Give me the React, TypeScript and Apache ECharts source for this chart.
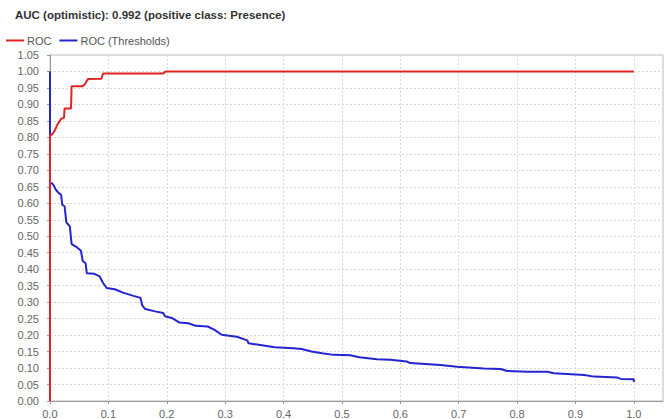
import React, { useEffect, useRef } from "react";
import * as echarts from "echarts";

// ROC curve: [false positive rate, true positive rate]
const rocPoints: [number, number][] = [
  [0, 0], [0, 0.805], [0.004, 0.81], [0.008, 0.82], [0.013, 0.84], [0.019, 0.856],
  [0.024, 0.86], [0.025, 0.888], [0.036, 0.888], [0.037, 0.955], [0.056, 0.955],
  [0.06, 0.962], [0.065, 0.977], [0.088, 0.978], [0.091, 0.994], [0.194, 0.994],
  [0.198, 1.0], [1.0, 1.0],
];

// Threshold curve: [false positive rate, threshold]
const thresholdPoints: [number, number][] = [
  [0, 1.0], [0, 0.662], [0.004, 0.66], [0.007, 0.652], [0.01, 0.641], [0.015, 0.631],
  [0.019, 0.626], [0.021, 0.595], [0.025, 0.591], [0.028, 0.542], [0.034, 0.53],
  [0.037, 0.476], [0.045, 0.468], [0.053, 0.456], [0.056, 0.425], [0.061, 0.418],
  [0.063, 0.388], [0.076, 0.386], [0.085, 0.378], [0.091, 0.358], [0.097, 0.343],
  [0.111, 0.339], [0.125, 0.329], [0.143, 0.319], [0.155, 0.313], [0.158, 0.29],
  [0.163, 0.279], [0.18, 0.272], [0.194, 0.267], [0.197, 0.257], [0.21, 0.251],
  [0.222, 0.238], [0.237, 0.236], [0.25, 0.228], [0.27, 0.226], [0.282, 0.216],
  [0.294, 0.201], [0.32, 0.195], [0.333, 0.187], [0.338, 0.184], [0.34, 0.175],
  [0.36, 0.17], [0.385, 0.163], [0.417, 0.16], [0.431, 0.158], [0.448, 0.15],
  [0.466, 0.145], [0.486, 0.14], [0.514, 0.139], [0.53, 0.133], [0.56, 0.127],
  [0.583, 0.125], [0.611, 0.12], [0.617, 0.115], [0.669, 0.109], [0.697, 0.104],
  [0.743, 0.099], [0.772, 0.097], [0.783, 0.091], [0.818, 0.089], [0.852, 0.089],
  [0.863, 0.084], [0.915, 0.079], [0.932, 0.074], [0.972, 0.071], [0.978, 0.067],
  [1.0, 0.066], [1.0, 0.058],
];

const seriesNames = ["ROC", "ROC (Thresholds)"];
const titleText = "AUC (optimistic): 0.992 (positive class: Presence)";

const FONT = "Arial, 'Liberation Sans', sans-serif";

export default function App() {
  const ref = useRef<HTMLDivElement>(null);

  useEffect(() => {
    if (!ref.current) return;
    const chart = echarts.init(ref.current, undefined, { renderer: "svg" });
    const gridLine = { show: true, lineStyle: { color: "#d9d9d9", type: [2, 2] as any, width: 1 } };
    chart.setOption({
      animation: false,
      backgroundColor: "#ffffff",
      title: {
        text: titleText,
        left: 15,
        top: 9,
        padding: 0,
        textStyle: { fontFamily: FONT, fontSize: 11.5, fontWeight: "bold", color: "#333" },
      },
      legend: {
        left: 6,
        top: 35,
        padding: 0,
        icon: "rect",
        itemWidth: 18,
        itemHeight: 2,
        itemGap: 8,
        textStyle: { fontFamily: FONT, fontSize: 11, color: "#555", padding: [0, 0, 0, -2] },
        data: [
          { name: seriesNames[0] },
          { name: seriesNames[1] },
        ],
      },
      grid: {
        left: 50,
        right: 7,
        top: 55,
        bottom: 18,
        show: true,
        borderColor: "#bdbdbd",
        borderWidth: 1,
        containLabel: false,
      },
      xAxis: {
        type: "value",
        min: 0,
        max: 1.05,
        interval: 0.1,
        offset: 3,
        axisLine: { show: true, lineStyle: { color: "#999" } },
        axisTick: { show: true, length: 3, lineStyle: { color: "#999" } },
        axisLabel: {
          margin: 4,
          fontFamily: FONT,
          fontSize: 11,
          color: "#666",
          showMaxLabel: false,
          formatter: (v: number) => (v > 1.0001 ? "" : v.toFixed(1)),
        },
        splitLine: gridLine,
      },
      yAxis: {
        type: "value",
        min: 0,
        max: 1.05,
        interval: 0.05,
        offset: 4,
        axisLine: { show: true, lineStyle: { color: "#999" } },
        axisTick: { show: true, length: 3, lineStyle: { color: "#999" } },
        axisLabel: {
          margin: 7,
          fontFamily: FONT,
          fontSize: 11,
          color: "#666",
          formatter: (v: number) => v.toFixed(2),
        },
        splitLine: gridLine,
      },
      series: [
        {
          name: seriesNames[1],
          type: "line",
          data: thresholdPoints,
          showSymbol: false,
          color: "#2424d0",
          lineStyle: { width: 2, color: "#2424d0" },
          z: 2,
        },
        {
          name: seriesNames[0],
          type: "line",
          data: rocPoints,
          showSymbol: false,
          color: "#e02424",
          lineStyle: { width: 2, color: "#e02424" },
          z: 3,
        },
      ],
    });
    return () => chart.dispose();
  }, []);

  return (
    <div
      ref={ref}
      style={{ position: "fixed", left: 0, top: 0, width: 670, height: 419 }}
    />
  );
}
